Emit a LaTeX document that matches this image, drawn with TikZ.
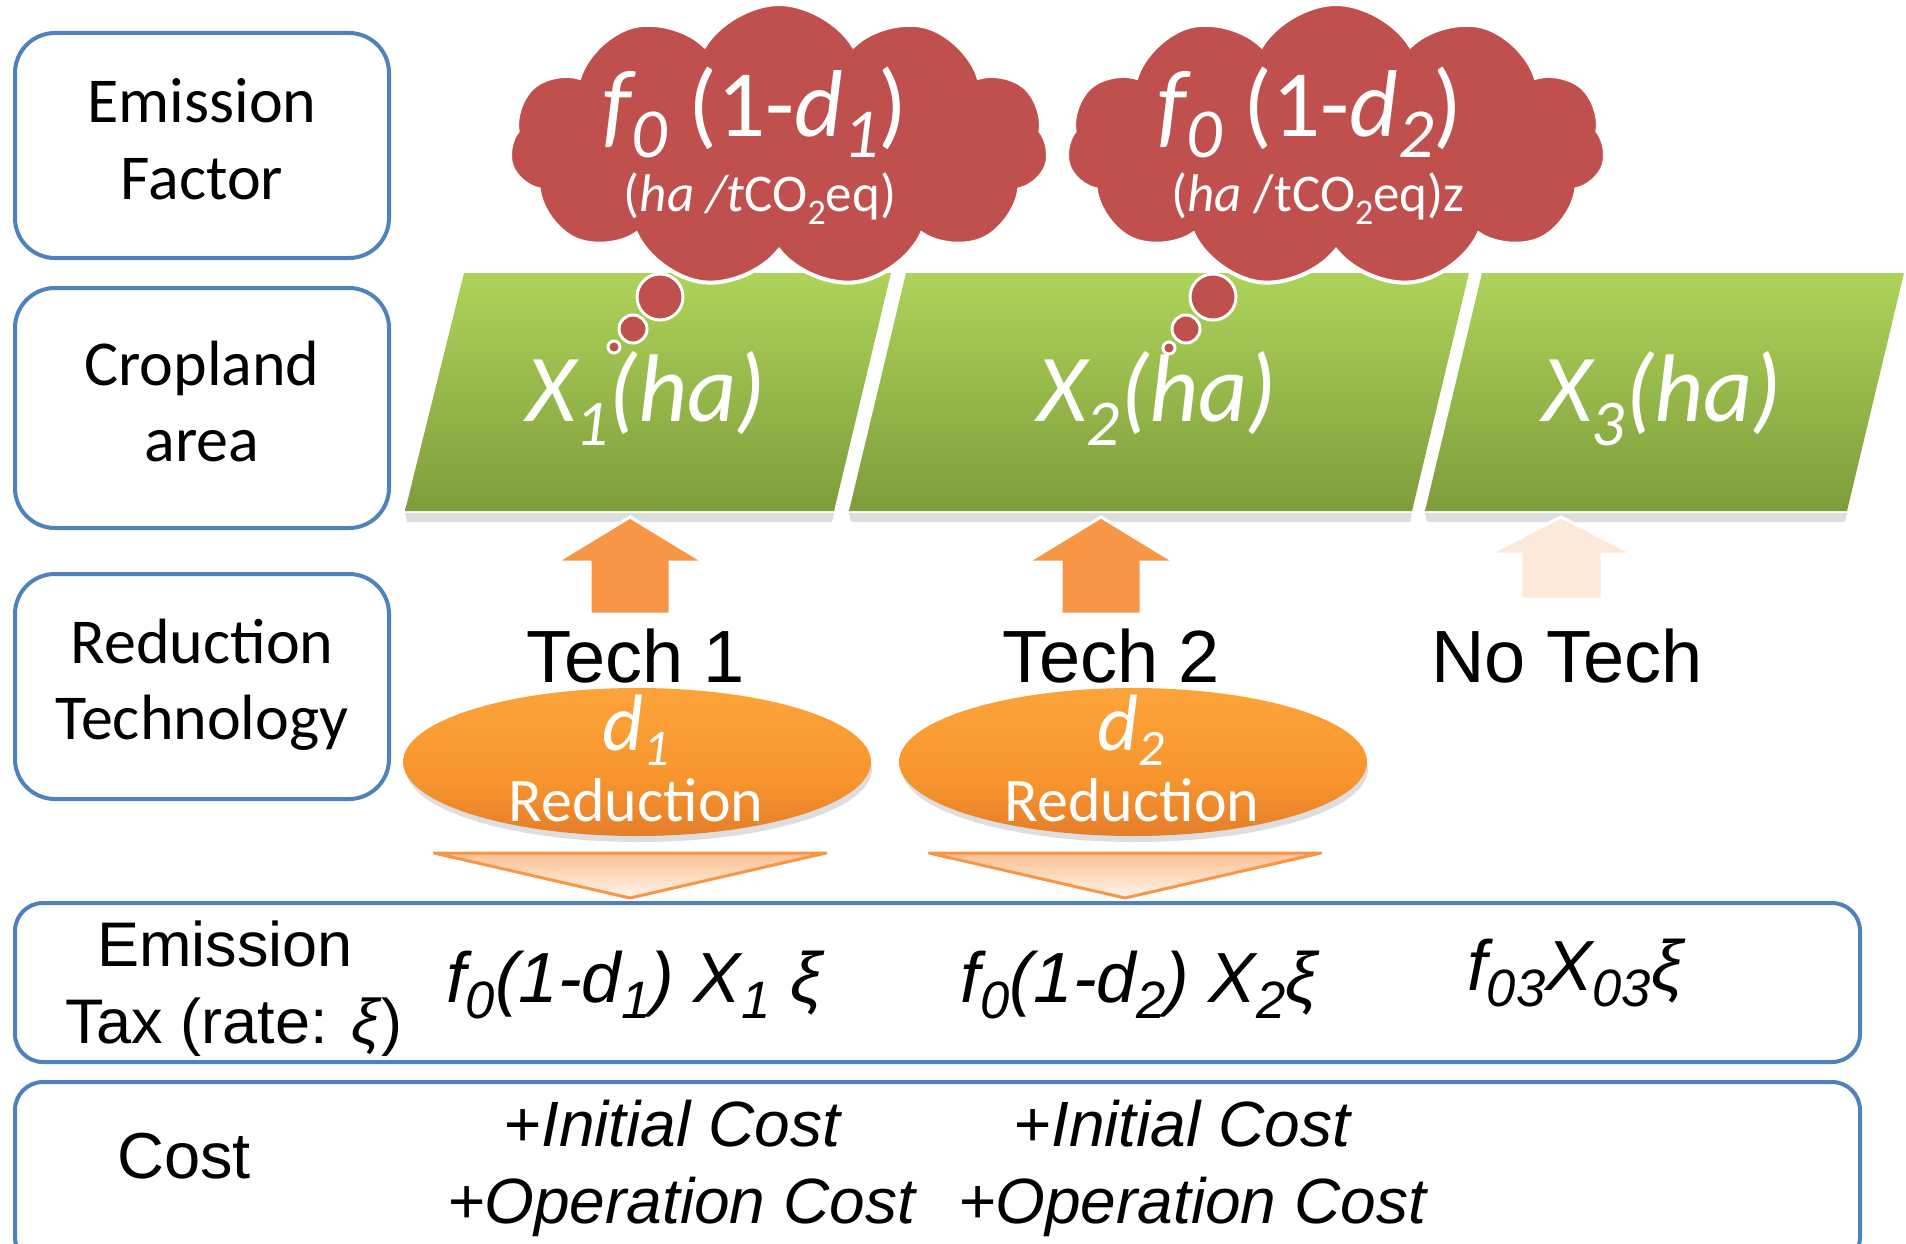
\documentclass[tikz,border=0pt]{standalone}
\usepackage{fontspec}
\usepackage{graphicx}
\setmainfont{Carlito}
\newfontfamily\arialf{Liberation Sans}
\usetikzlibrary{shapes.symbols,shapes.geometric}
\definecolor{boxblue}{HTML}{4F81BD}
\definecolor{cloudred}{HTML}{C0504D}
\definecolor{arroworange}{HTML}{F79646}
\definecolor{palearrow}{HTML}{FDE9D9}
\definecolor{greentop}{HTML}{AED35A}
\definecolor{greenbot}{HTML}{7D9D3B}
\definecolor{ellrim}{HTML}{FFC766}
\definecolor{elltop}{HTML}{FCA53C}
\definecolor{ellmid}{HTML}{F8962E}
\definecolor{ellbot}{HTML}{DE7529}
\definecolor{tritop}{HTML}{FAC090}
\definecolor{tribot}{HTML}{FFF5EC}
\pgfdeclareverticalshading{ellshade}{100bp}{color(0bp)=(ellbot); color(18bp)=(ellbot); color(45bp)=(ellmid); color(78bp)=(elltop); color(90bp)=(elltop); color(100bp)=(ellrim)}
\newcommand{\sbx}[1]{\raisebox{-0.25em}{\scalebox{0.68}{#1}}}
\newcommand{\sbe}[1]{\raisebox{-0.19em}{\scalebox{0.64}{#1}}}
\newcommand{\sbf}[1]{\raisebox{-0.23em}{\scalebox{0.74}{#1}}}
\tikzset{
  lbl/.style={draw=boxblue, line width=4pt, rounded corners=40pt, fill=white, inner sep=0pt},
  rowbox/.style={draw=boxblue, line width=4pt, rounded corners=28pt, fill=white, inner sep=0pt},
  lbltxt/.style={anchor=base, inner sep=0pt, font=\fontsize{64}{77}\selectfont},
  cloudbox/.style={cloud, cloud puffs=11, cloud puff arc=118, cloud ignores aspect, fill=cloudred, draw=white, line width=4pt, minimum width=540pt, minimum height=284pt, inner sep=0pt},
  bubble/.style={circle, fill=cloudred, draw=white, line width=3pt, inner sep=0pt},
  cloudtxt/.style={text=white, anchor=base, inner sep=0pt, font=\fontsize{95}{98}\selectfont},
  cloudsub/.style={text=white, anchor=base, inner sep=0pt, font=\fontsize{53}{56}\selectfont},
  areatxt/.style={text=white, anchor=base, inner sep=0pt, font=\fontsize{96}{100}\selectfont\itshape},
  techtxt/.style={anchor=base, inner sep=0pt, font=\arialf\fontsize{74}{80}\selectfont},
  ell/.style={ellipse, minimum width=468pt, minimum height=148pt, shading=ellshade, inner sep=0pt},
  elld/.style={text=white, anchor=base, inner sep=0pt, font=\fontsize{80}{85}\selectfont\itshape},
  ellr/.style={text=white, anchor=base, inner sep=0pt, font=\fontsize{62}{65}\selectfont},
  rowtxt/.style={anchor=base, inner sep=0pt, font=\arialf\fontsize{63}{70}\selectfont},
  formula/.style={anchor=base, inner sep=0pt, font=\arialf\itshape\fontsize{71}{80}\selectfont},
  costtxt/.style={anchor=base, inner sep=0pt, font=\arialf\itshape\fontsize{64}{70}\selectfont},
  upar/.style={fill=arroworange, draw=white, line width=3pt},
  palear/.style={fill=palearrow, draw=white, line width=3pt},
  downtri/.style={top color=tritop, bottom color=tribot},
  tribord/.style={draw=arroworange, line width=3pt, line join=round},
  shad/.style={fill=black, opacity=0.13}
}
\begin{document}
\begin{tikzpicture}[x=1pt,y=-1pt]
\useasboundingbox (0,0) rectangle (1906,1244);
% left label boxes
\node[lbl, minimum width=374pt, minimum height=225pt] (efbox) at (202,145.5) {};
\node[lbltxt] (eft1) at (202,123) {Emission};
\node[lbltxt] (eft2) at (202,199) {Factor};
\node[lbl, minimum width=374pt, minimum height=240pt] (cabox) at (202,408) {};
\node[lbltxt] (cat1) at (202,385) {Cropland};
\node[lbltxt] (cat2) at (202,461) {area};
\node[lbl, minimum width=374pt, minimum height=225pt] (rtbox) at (202,686.5) {};
\node[lbltxt] (rtt1) at (202,663) {Reduction};
\node[lbltxt] (rtt2) at (202,739) {Technology};
% wide row boxes
\node[rowbox, minimum width=1845pt, minimum height=159pt] (taxbox) at (937.5,982.5) {};
\node[rowbox, minimum width=1845pt, minimum height=183pt] (costbox) at (937.5,1173.5) {};
% parallelograms
\fill[shad] (405,513) -- (834,513) -- (832,522) -- (407,522) -- cycle;
\fill[shad] (849,513) -- (1412,513) -- (1410,522) -- (851,522) -- cycle;
\fill[shad] (1425,513) -- (1847,513) -- (1845,522) -- (1427,522) -- cycle;
\shade[top color=greentop, bottom color=greenbot] (464,273) -- (891,273) -- (834,511) -- (405,511) -- cycle;
\shade[top color=greentop, bottom color=greenbot] (906,273) -- (1469,273) -- (1412,511) -- (849,511) -- cycle;
\shade[top color=greentop, bottom color=greenbot] (1482,273) -- (1904,273) -- (1847,511) -- (1425,511) -- cycle;
\node[areatxt] (x1) at (646,421) {X\sbx{1}(ha)};
\node[areatxt] (x2) at (1157,421) {X\sbx{2}(ha)};
\node[areatxt] (x3) at (1662,421) {X\sbx{3}(ha)};
% clouds
\node[cloudbox] (c1) at (779,146) {};
\node[bubble, minimum size=46pt] (c1b1) at (660,297) {};
\node[bubble, minimum size=28pt] (c1b2) at (633,329) {};
\node[bubble, minimum size=12pt] (c1b3) at (614,347) {};
\node[cloudtxt] (c1t1) at (755,136) {\itshape f\sbf{0}\upshape\ (1-\itshape d\sbf{1}\upshape)};
\node[cloudsub] (c1t2) at (760,211) {(\itshape ha /t\upshape CO\sbx{2}eq)};
\node[cloudbox] (c2) at (1336,146) {};
\node[bubble, minimum size=46pt] (c2b1) at (1213,297) {};
\node[bubble, minimum size=28pt] (c2b2) at (1186,329) {};
\node[bubble, minimum size=12pt] (c2b3) at (1169,348) {};
\node[cloudtxt] (c2t1) at (1310,136) {\itshape f\sbf{0}\upshape\ (1-\itshape d\sbf{2}\upshape)};
\node[cloudsub] (c2t2) at (1318,211) {(\itshape ha\upshape\ /tCO\sbx{2}eq)z};
% up arrows
\filldraw[upar] (630,517) -- (704,562) -- (670,562) -- (670,614) -- (590,614) -- (590,562) -- (556,562) -- cycle;
\filldraw[upar] (1101,517) -- (1175,562) -- (1141,562) -- (1141,614) -- (1061,614) -- (1061,562) -- (1027,562) -- cycle;
\filldraw[palear] (1561,517) -- (1634,554) -- (1602,554) -- (1602,599) -- (1521,599) -- (1521,554) -- (1489,554) -- cycle;
% tech labels
\node[techtxt] (t1) at (636,682) {Tech 1};
\node[techtxt] (t2) at (1111,682) {Tech 2};
\node[techtxt] (t3) at (1567,682) {No Tech};
% ellipses
\fill[shad] (639,769) ellipse [x radius=233, y radius=73];
\fill[shad] (1135,769) ellipse [x radius=233, y radius=73];
\node[ell] (e1) at (637,762) {};
\node[ell] (e2) at (1133,762) {};
\node[elld] (e1d) at (636,750) {d\sbe{1}};
\node[ellr] (e1r) at (636,821) {Reduction};
\node[elld] (e2d) at (1131,750) {d\sbe{2}};
\node[ellr] (e2r) at (1132,821) {Reduction};
% down triangles
\shade[downtri] (434,853) -- (826,853) -- (630,898) -- cycle;
\shade[downtri] (929,853) -- (1321,853) -- (1125,898) -- cycle;
\draw[tribord] (434,853) -- (826,853) -- (630,898) -- cycle;
\draw[tribord] (929,853) -- (1321,853) -- (1125,898) -- cycle;
% tax row
\node[rowtxt] (taxl1) at (225,966) {Emission};
\node[rowtxt] (taxl2) at (234,1043) {Tax (rate: \textit{ξ})};
\node[formula] (f1) at (634,1002) {f\sbf{0}(1-d\sbf{1}) X\sbf{1} ξ};
\node[formula] (f2) at (1139,1002) {f\sbf{0}(1-d\sbf{2}) X\sbf{2}ξ};
\node[formula] (f3) at (1575,990) {f\sbf{03}X\sbf{03}ξ};
% cost row
\node[rowtxt, font=\arialf\fontsize{65}{70}\selectfont] (costl) at (184,1178) {Cost};
\node[costtxt] (ic1) at (672,1146) {+Initial Cost};
\node[costtxt] (oc1) at (681,1223) {+Operation Cost};
\node[costtxt] (ic2) at (1182,1146) {+Initial Cost};
\node[costtxt] (oc2) at (1192,1223) {+Operation Cost};
\end{tikzpicture}
\end{document}
